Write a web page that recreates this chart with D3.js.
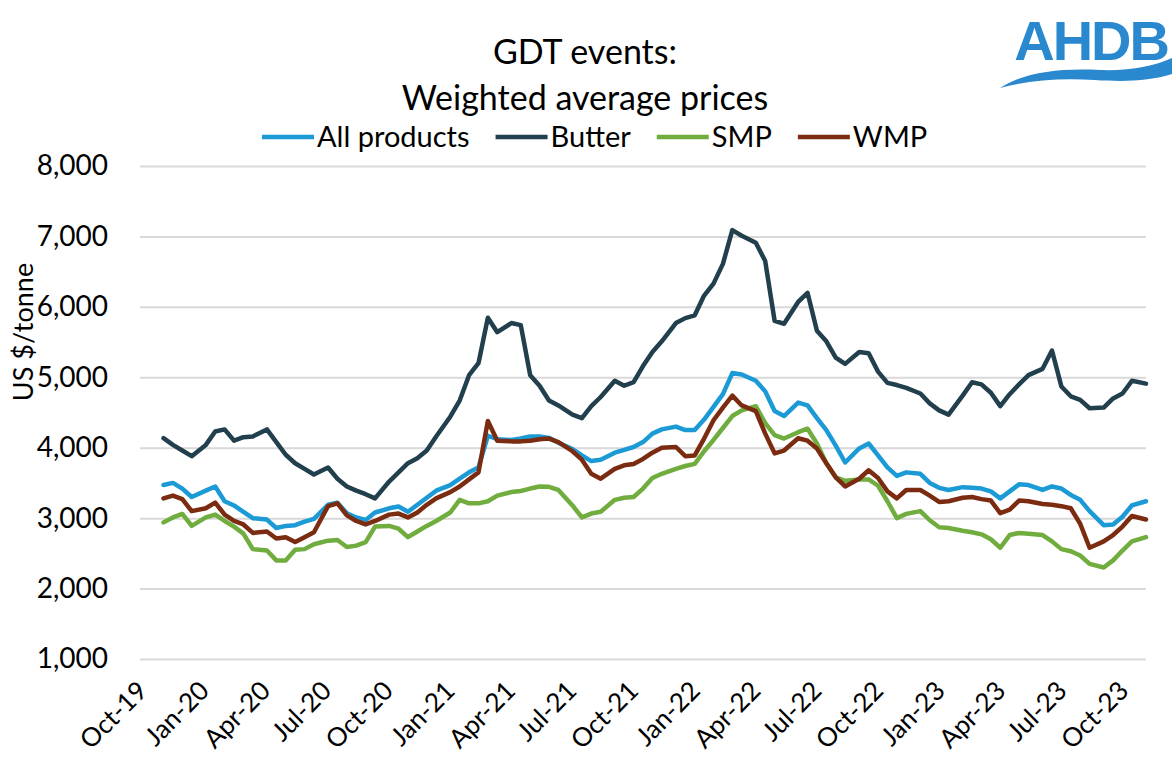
<!DOCTYPE html>
<html>
<head>
<meta charset="utf-8">
<script src="https://cdn.jsdelivr.net/npm/d3@7"></script>
<style>
  html, body { margin: 0; padding: 0; background: #ffffff; }
  svg { display: block; }
  text { font-family: Lato, "Noto Sans", sans-serif; fill: #000; }
</style>
</head>
<body>
<svg id="chart" width="1172" height="762"></svg>
<script>
// GDT auction event dates (twice monthly)
const eventDates = [
  "2019-11-05","2019-11-19","2019-12-03","2019-12-17",
  "2020-01-07","2020-01-21","2020-02-04","2020-02-18","2020-03-03","2020-03-17",
  "2020-04-07","2020-04-21","2020-05-05","2020-05-19","2020-06-02","2020-06-16",
  "2020-07-07","2020-07-21","2020-08-04","2020-08-18","2020-09-01","2020-09-15",
  "2020-10-06","2020-10-20","2020-11-03","2020-11-17","2020-12-01","2020-12-15",
  "2021-01-05","2021-01-19","2021-02-02","2021-02-16","2021-03-02","2021-03-16",
  "2021-04-06","2021-04-20","2021-05-04","2021-05-18","2021-06-01","2021-06-15",
  "2021-07-06","2021-07-20","2021-08-03","2021-08-17","2021-09-07","2021-09-21",
  "2021-10-05","2021-10-19","2021-11-02","2021-11-16","2021-12-07","2021-12-21",
  "2022-01-04","2022-01-18","2022-02-01","2022-02-15","2022-03-01","2022-03-15",
  "2022-04-05","2022-04-19","2022-05-03","2022-05-17","2022-06-07","2022-06-21",
  "2022-07-05","2022-07-19","2022-08-02","2022-08-16","2022-09-06","2022-09-20",
  "2022-10-04","2022-10-18","2022-11-01","2022-11-15","2022-12-06","2022-12-20",
  "2023-01-03","2023-01-17","2023-02-07","2023-02-21","2023-03-07","2023-03-21",
  "2023-04-04","2023-04-18","2023-05-02","2023-05-16","2023-06-06","2023-06-20",
  "2023-07-04","2023-07-18","2023-08-01","2023-08-15","2023-09-05","2023-09-19",
  "2023-10-03","2023-10-17","2023-11-07"
];

// Weighted average prices, US$/tonne
const allProducts = [
  3470,3500,3420,3300,
  3390,3450,3240,3180,3090,3000,
  2980,2860,2890,2900,2950,2990,
  3190,3220,3070,3010,2975,3080,
  3140,3165,3090,3190,3290,3390,
  3470,3560,3650,3720,4170,4120,
  4110,4130,4160,4160,4140,4070,
  3980,3890,3810,3830,3930,3970,
  4010,4080,4200,4260,4300,4250,
  4250,4400,4580,4760,5060,5040,
  4950,4800,4520,4450,4640,4600,
  4420,4250,4030,3790,3990,4060,
  3890,3720,3600,3650,3630,3500,
  3430,3400,3440,3430,3420,3380,
  3280,3380,3480,3470,3400,3450,
  3420,3330,3260,3100,2900,2910,
  3020,3180,3240
];

const butter = [
  4135,4040,3960,3880,
  4040,4230,4260,4100,4150,4160,
  4260,4080,3900,3780,3700,3620,
  3720,3560,3450,3390,3340,3280,
  3520,3650,3780,3850,3960,4160,
  4440,4670,5030,5200,5845,5640,
  5770,5740,5030,4880,4670,4600,
  4470,4420,4590,4720,4950,4880,
  4930,5160,5360,5510,5770,5840,
  5880,6160,6330,6610,7090,7010,
  6910,6650,5800,5760,6070,6200,
  5660,5510,5280,5190,5360,5340,
  5080,4920,4890,4850,4770,4630,
  4530,4470,4740,4930,4900,4780,
  4590,4760,4900,5030,5120,5380,
  4870,4730,4680,4560,4570,4700,
  4770,4950,4910
];

const smp = [
  2940,3010,3060,2890,
  3010,3050,2960,2880,2780,2560,
  2540,2400,2400,2550,2560,2630,
  2680,2690,2590,2610,2660,2880,
  2890,2850,2730,2810,2890,2960,
  3080,3260,3210,3210,3240,3320,
  3370,3385,3420,3450,3445,3400,
  3180,3010,3065,3090,3260,3290,
  3300,3420,3570,3630,3700,3740,
  3770,3950,4110,4280,4450,4530,
  4590,4350,4180,4130,4220,4270,
  4060,3780,3580,3530,3550,3550,
  3460,3240,3000,3060,3100,2970,
  2870,2860,2820,2800,2770,2700,
  2580,2760,2790,2780,2760,2670,
  2560,2530,2470,2350,2300,2400,
  2540,2670,2730
];

const wmp = [
  3280,3320,3270,3100,
  3140,3220,3050,2960,2910,2790,
  2810,2710,2730,2660,2730,2800,
  3170,3210,3040,2960,2910,2960,
  3050,3065,3010,3080,3190,3280,
  3370,3450,3550,3650,4380,4100,
  4090,4090,4100,4120,4130,4080,
  3950,3830,3630,3560,3700,3750,
  3770,3840,3930,4000,4010,3880,
  3890,4130,4390,4570,4740,4600,
  4520,4200,3920,3960,4135,4100,
  3990,3780,3580,3450,3560,3680,
  3570,3380,3280,3400,3400,3320,
  3230,3240,3290,3300,3270,3250,
  3070,3120,3250,3240,3200,3190,
  3170,3140,2920,2580,2670,2760,
  2880,3030,2980
];

const seriesNames = ["All products", "Butter", "SMP", "WMP"];
const seriesColors = ["#1c9ad6", "#213f4c", "#70ad3e", "#7b2b10"];
const seriesValues = [allProducts, butter, smp, wmp];

const xTickLabels = ["Oct-19","Jan-20","Apr-20","Jul-20","Oct-20","Jan-21","Apr-21","Jul-21",
  "Oct-21","Jan-22","Apr-22","Jul-22","Oct-22","Jan-23","Apr-23","Jul-23","Oct-23"];
const yTickValues = [1000, 2000, 3000, 4000, 5000, 6000, 7000, 8000];

const titleLines = ["GDT events:", "Weighted average prices"];
const yAxisTitle = "US $/tonne";

// ---------------------------------------------------------------
const svg = d3.select("#chart");
const plot = { left: 140, right: 1146, top: 166, bottom: 659 };

const parseDay = d3.timeParse("%Y-%m-%d");
const parseTick = d3.timeParse("%b-%y");
const dates = eventDates.map(parseDay);
const tickDates = xTickLabels.map(parseTick);

const x = d3.scaleTime()
  .domain([parseDay("2019-10-01"), dates[dates.length - 1]])
  .range([plot.left, plot.right]);

const y = d3.scaleLinear()
  .domain([1000, 8000])
  .range([plot.bottom, plot.top]);

// Horizontal gridlines with y tick labels
const yAxis = d3.axisLeft(y)
  .tickValues(yTickValues)
  .tickFormat(d3.format(","))
  .tickSize(-(plot.right - plot.left))
  .tickPadding(32);

const gy = svg.append("g")
  .attr("transform", `translate(${plot.left},0)`)
  .call(yAxis);
gy.select(".domain").remove();
gy.selectAll(".tick line").attr("stroke", "#d9d9d9").attr("stroke-width", 2);
gy.selectAll(".tick text")
  .attr("font-size", 28)
  .attr("fill", "#000")
  .style("font-family", "Lato, 'Noto Sans', sans-serif");

// Quarterly date labels, rotated
const xAxis = d3.axisBottom(x)
  .tickValues(tickDates)
  .tickFormat((d, i) => xTickLabels[i])
  .tickSize(0)
  .tickPadding(0);

const gx = svg.append("g")
  .attr("transform", `translate(0,${plot.bottom})`)
  .call(xAxis);
gx.select(".domain").remove();
gx.selectAll(".tick text")
  .attr("font-size", 26)
  .attr("fill", "#000")
  .attr("text-anchor", "end")
  .attr("dy", "0.35em")
  .attr("x", 0)
  .attr("y", 0)
  .attr("transform", "translate(2,27) rotate(-45)")
  .style("font-family", "Lato, 'Noto Sans', sans-serif");

// Series lines
const line = d3.line()
  .x((d, i) => x(dates[i]))
  .y(d => y(d));

seriesValues.forEach((vals, k) => {
  svg.append("path")
    .datum(vals)
    .attr("fill", "none")
    .attr("stroke", seriesColors[k])
    .attr("stroke-width", 4.5)
    .attr("stroke-linejoin", "round")
    .attr("stroke-linecap", "round")
    .attr("d", line);
});

// Title
svg.append("text")
  .attr("x", 585).attr("y", 64)
  .attr("text-anchor", "middle")
  .attr("font-size", 34)
  .text(titleLines[0]);
svg.append("text")
  .attr("x", 585).attr("y", 110)
  .attr("text-anchor", "middle")
  .attr("font-size", 34)
  .text(titleLines[1]);

// Legend
const legend = svg.append("g");
let lx = 262;
const legendY = 137;
seriesNames.forEach((name, k) => {
  legend.append("line")
    .attr("x1", lx).attr("x2", lx + 52)
    .attr("y1", legendY).attr("y2", legendY)
    .attr("stroke", seriesColors[k])
    .attr("stroke-width", 4.5);
  const t = legend.append("text")
    .attr("x", lx + 55).attr("y", legendY + 10)
    .attr("font-size", 29)
    .text(name);
  lx += 55 + t.node().getComputedTextLength() + 26;
});

// Y axis title
svg.append("text")
  .attr("transform", "translate(33,332) rotate(-90)")
  .attr("text-anchor", "middle")
  .attr("font-size", 27)
  .text(yAxisTitle);

// AHDB logo
const logo = svg.append("g");
logo.append("text")
  .attr("x", 1168).attr("y", 60)
  .attr("text-anchor", "end")
  .attr("font-size", 56)
  .attr("font-weight", "bold")
  .style("font-family", "'Liberation Sans', Arial, sans-serif")
  .style("fill", "#2a88cf")
  .attr("letter-spacing", -2)
  .text("AHDB");
logo.append("path")
  .attr("d", "M1000,88 C1025,72 1060,68 1100,70 C1130,71 1155,66 1172,58 L1172,74 C1150,81 1125,82 1095,80 C1060,78 1030,80 1000,88 Z")
  .attr("fill", "#2a88cf");
</script>
</body>
</html>
